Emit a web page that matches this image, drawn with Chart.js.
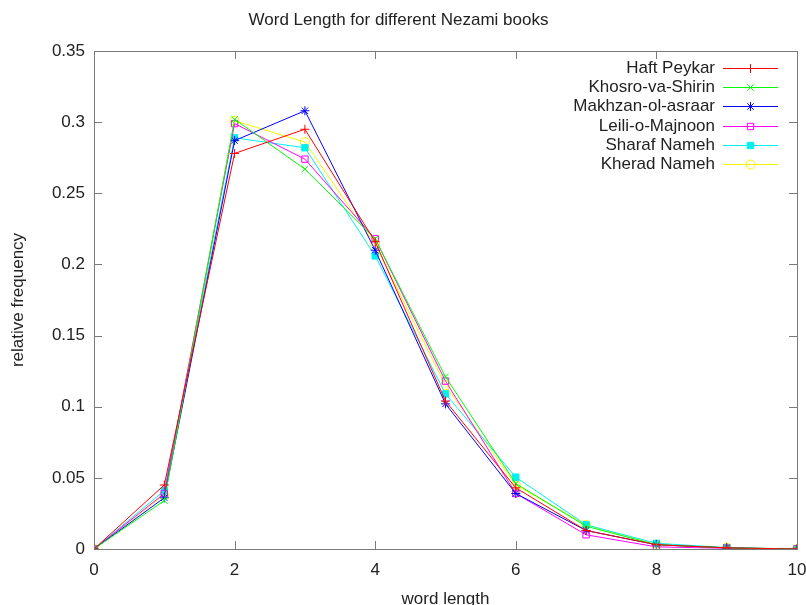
<!DOCTYPE html>
<html>
<head>
<meta charset="utf-8">
<script src="https://cdn.jsdelivr.net/npm/chart.js@4.4.1/dist/chart.umd.min.js"></script>
<style>
  html, body { margin: 0; padding: 0; background: #ffffff; }
  #wrap { width: 806px; height: 605px; position: relative; }
</style>
</head>
<body>
<div id="wrap"><canvas id="c" width="806" height="605"></canvas></div>
<script>
// ---- Data ----
const wordLengths   = [0, 1, 2, 3, 4, 5, 6, 7, 8, 9, 10];
const seriesNames   = ["Haft Peykar", "Khosro-va-Shirin", "Makhzan-ol-asraar", "Leili-o-Majnoon", "Sharaf Nameh", "Kherad Nameh"];
const haftPeykar    = [0, 0.045, 0.278, 0.295, 0.216, 0.104, 0.043, 0.013, 0.003, 0.0008, 0];
const khosroShirin  = [0, 0.034, 0.302, 0.267, 0.218, 0.121, 0.046, 0.016, 0.003, 0.0008, 0];
const makhzanAsraar = [0, 0.036, 0.287, 0.308, 0.210, 0.102, 0.039, 0.013, 0.003, 0.0008, 0];
const leiliMajnoon  = [0, 0.039, 0.299, 0.274, 0.218, 0.118, 0.039, 0.010, 0.0015, 0.0005, 0];
const sharafNameh   = [0, 0.041, 0.289, 0.282, 0.206, 0.109, 0.0505, 0.017, 0.004, 0.001, 0];
const kheradNameh   = [0, 0.038, 0.301, 0.286, 0.214, 0.115, 0.045, 0.017, 0.003, 0.001, 0];
const xTickValues   = [0, 2, 4, 6, 8, 10];
const yTickValues   = [0, 0.05, 0.1, 0.15, 0.2, 0.25, 0.3, 0.35];

const allSeries = [haftPeykar, khosroShirin, makhzanAsraar, leiliMajnoon, sharafNameh, kheradNameh];
const colors = ["#ff0000", "#00ff00", "#0000ff", "#ff00ff", "#00f0f0", "#f4f400"];
const styles = ["cross", "crossRot", "star", "rect", "rect", "circle"];
const filled = [false, false, false, false, true, false];

const datasets = allSeries.map((vals, i) => ({
  label: seriesNames[i],
  data: wordLengths.map((x, j) => ({ x: x, y: vals[j] })),
  borderColor: colors[i],
  backgroundColor: filled[i] ? colors[i] : "rgba(0,0,0,0)",
  borderWidth: 1,
  pointStyle: styles[i],
  pointRadius: 4.5,
  pointBorderWidth: 1,
  pointBorderColor: colors[i],
  pointBackgroundColor: filled[i] ? colors[i] : "rgba(0,0,0,0)",
  tension: 0,
  fill: false
}));

const FONT = "'Liberation Sans', Arial, sans-serif";
const FS = 17;
const AXIS_COL = "#7a7a7a";
const TEXT_COL = "#222222";

const framePlugin = {
  id: "frame",
  afterDatasetsDraw(chart) {
    const ctx = chart.ctx;
    const a = chart.chartArea;
    const xs = chart.scales.x, ys = chart.scales.y;
    ctx.save();
    ctx.strokeStyle = AXIS_COL;
    ctx.lineWidth = 1;
    // box
    ctx.strokeRect(Math.round(a.left) + 0.5, Math.round(a.top) + 0.5,
                   Math.round(a.right - a.left), Math.round(a.bottom - a.top));
    // inward ticks (mirrored)
    const tl = 8;
    ctx.beginPath();
    xTickValues.forEach(v => {
      const px = Math.round(xs.getPixelForValue(v)) + 0.5;
      ctx.moveTo(px, a.bottom); ctx.lineTo(px, a.bottom - tl);
      ctx.moveTo(px, a.top); ctx.lineTo(px, a.top + tl);
    });
    yTickValues.forEach(v => {
      const py = Math.round(ys.getPixelForValue(v)) + 0.5;
      ctx.moveTo(a.left, py); ctx.lineTo(a.left + tl, py);
      ctx.moveTo(a.right, py); ctx.lineTo(a.right - tl, py);
    });
    ctx.stroke();

    // legend (gnuplot style: text right-aligned, sample on the right)
    const textRight = 715, lineL = 723, lineR = 778, rowTop = 68, rowH = 19.2;
    ctx.font = FS + "px " + FONT;
    ctx.textAlign = "right";
    ctx.textBaseline = "middle";
    chart.data.datasets.forEach((ds, i) => {
      const y = Math.round(rowTop + i * rowH) + 0.5;
      ctx.fillStyle = TEXT_COL;
      ctx.fillText(ds.label, textRight, y);
      ctx.strokeStyle = ds.borderColor;
      ctx.lineWidth = 1;
      ctx.beginPath();
      ctx.moveTo(lineL, y);
      ctx.lineTo(lineR, y);
      ctx.stroke();
      ctx.fillStyle = ds.pointBackgroundColor;
      ctx.strokeStyle = ds.pointBorderColor;
      Chart.helpers.drawPoint(ctx, { pointStyle: ds.pointStyle, radius: 4.5, rotation: 0, borderWidth: 1 },
                              (lineL + lineR) / 2, y);
    });
    ctx.restore();
  }
};

new Chart(document.getElementById("c"), {
  type: "line",
  data: { datasets: datasets },
  options: {
    responsive: false,
    animation: false,
    devicePixelRatio: 1,
    layout: { padding: { left: 0, right: 9, top: 0, bottom: 0 } },
    plugins: {
      legend: { display: false },
      tooltip: { enabled: false },
      title: {
        display: true,
        text: "Word Length for different Nezami books",
        color: TEXT_COL,
        font: { family: FONT, size: FS, weight: "normal" },
        padding: { top: 10, bottom: 20.6 }
      }
    },
    scales: {
      x: {
        type: "linear",
        min: 0, max: 10,
        grid: { display: false, drawTicks: false },
        border: { display: false },
        afterBuildTicks: s => { s.ticks = xTickValues.map(v => ({ value: v })); },
        afterFit: s => { s.height = 56; s.paddingLeft = 0; s.paddingRight = 0; },
        ticks: {
          color: TEXT_COL, padding: 11, maxRotation: 0, autoSkip: false,
          font: { family: FONT, size: FS },
          callback: v => String(v)
        },
        title: {
          display: true, text: "word length", color: TEXT_COL,
          font: { family: FONT, size: FS }, padding: { top: 0, bottom: -5 }
        }
      },
      y: {
        type: "linear",
        min: 0, max: 0.35,
        grid: { display: false, drawTicks: false },
        border: { display: false },
        afterBuildTicks: s => { s.ticks = yTickValues.map(v => ({ value: v })); },
        afterFit: s => { s.width = 94; },
        ticks: {
          color: TEXT_COL, padding: 9, autoSkip: false,
          font: { family: FONT, size: FS },
          callback: v => String(parseFloat(v.toFixed(2)))
        },
        title: {
          display: true, text: "relative frequency", color: TEXT_COL,
          font: { family: FONT, size: FS }, padding: { top: 8, bottom: 0 }
        }
      }
    }
  },
  plugins: [framePlugin]
});
</script>
</body>
</html>
